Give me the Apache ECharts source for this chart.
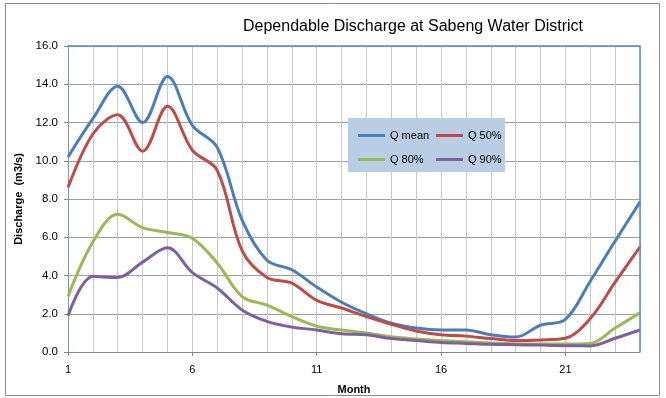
<!DOCTYPE html>
<html>
<head>
<meta charset="utf-8">
<script src="https://cdn.jsdelivr.net/npm/echarts@6/dist/echarts.min.js"></script>
<style>
  html, body { margin: 0; padding: 0; background: #fff; }
  #main { width: 666px; height: 398px; }
</style>
</head>
<body>
<div id="main"></div>
<script>
// months 1..24
var months = [];
for (var i = 1; i <= 24; i++) months.push(String(i));

var qMean = [10.2, 12.2, 13.9, 12.0, 14.4, 11.85, 10.7, 6.9, 4.8, 4.3, 3.4, 2.6,
             2.0, 1.5, 1.25, 1.15, 1.15, 0.9, 0.78, 1.4, 1.7, 3.7, 5.8, 7.85];
var q50 = [8.6, 11.4, 12.4, 10.5, 12.85, 10.55, 9.5, 5.3, 3.9, 3.6, 2.7, 2.3,
           1.85, 1.45, 1.1, 0.9, 0.83, 0.7, 0.6, 0.63, 0.72, 1.75, 3.65, 5.5];
var q80 = [2.9, 5.75, 7.2, 6.5, 6.25, 5.95, 4.65, 2.9, 2.45, 1.85, 1.35, 1.15,
           1.0, 0.8, 0.68, 0.6, 0.53, 0.47, 0.43, 0.42, 0.42, 0.45, 1.25, 2.05];
var q90 = [1.9, 3.95, 3.9, 4.7, 5.45, 4.15, 3.35, 2.2, 1.6, 1.3, 1.15, 0.95,
           0.9, 0.7, 0.6, 0.5, 0.45, 0.4, 0.38, 0.36, 0.33, 0.32, 0.72, 1.15];

var chart = echarts.init(document.getElementById('main'));

function mkSeries(name, data, color) {
  return {
    name: name,
    type: 'line',
    data: data,
    smooth: 0.35,
    symbol: 'none',
    lineStyle: { color: color, width: 3 },
    itemStyle: { color: color }
  };
}

var legendText = { fontFamily: 'Liberation Sans', fontSize: 11, color: '#000' };

var option = {
  animation: false,
  textStyle: { fontFamily: 'Liberation Sans' },
  title: {
    text: 'Dependable Discharge at Sabeng Water District',
    left: 238,
    top: 14,
    textStyle: { fontFamily: 'Liberation Sans', fontSize: 16, fontWeight: 'normal', color: '#000' }
  },
  legend: [
    {
      data: ['Q mean', 'Q 80%'],
      orient: 'vertical',
      left: 353,
      top: 125,
      itemGap: 13,
      itemWidth: 27,
      itemHeight: 3,
      icon: 'rect',
      z: 11,
      textStyle: legendText
    },
    {
      data: ['Q 50%', 'Q 90%'],
      orient: 'vertical',
      left: 431,
      top: 125,
      itemGap: 13,
      itemWidth: 27,
      itemHeight: 3,
      icon: 'rect',
      z: 11,
      textStyle: legendText
    }
  ],
  grid: { left: 68, right: 26, top: 46, bottom: 46, containLabel: false, outerBoundsMode: 'none' },
  xAxis: {
    type: 'category',
    data: months,
    boundaryGap: false,
    name: 'Month',
    nameLocation: 'middle',
    nameGap: 32,
    nameTextStyle: { fontSize: 11, fontWeight: 'bold', color: '#000' },
    axisLine: { lineStyle: { color: '#868686', width: 1 } },
    axisTick: { interval: 4, length: 4, lineStyle: { color: '#868686' } },
    axisLabel: { interval: 4, fontSize: 11, color: '#000', margin: 12 },
    splitLine: { show: true, interval: 0, lineStyle: { color: '#c8c8c8', width: 1 } }
  },
  yAxis: {
    type: 'value',
    min: 0,
    max: 16,
    interval: 2,
    name: 'Discharge  (m3/s)',
    nameLocation: 'middle',
    nameGap: 40,
    nameTextStyle: { fontSize: 11, fontWeight: 'bold', color: '#000' },
    axisLine: { show: true, lineStyle: { color: '#8197b0', width: 1 } },
    axisTick: { show: true, length: 4, lineStyle: { color: '#868686' } },
    axisLabel: {
      fontSize: 11.5, color: '#000', margin: 10,
      formatter: function (v) { return v.toFixed(1); }
    },
    splitLine: { lineStyle: { color: '#a0a0a0', width: 1 } }
  },
  series: [
    mkSeries('Q mean', qMean, '#4a7ebb'),
    mkSeries('Q 50%', q50, '#be4b48'),
    mkSeries('Q 80%', q80, '#98b954'),
    mkSeries('Q 90%', q90, '#7d60a0')
  ]
};

chart.setOption(option);

// outer frame, legend box and the blue top/right border of the plot area
var p0 = chart.convertToPixel({ gridIndex: 0 }, [0, 16]);
var p1 = chart.convertToPixel({ gridIndex: 0 }, [23, 0]);
chart.setOption({
  graphic: [
    {
      type: 'rect',
      shape: { x: 5.5, y: 3.5, width: 654, height: 392 },
      style: { fill: 'none', stroke: '#8c8c8c', lineWidth: 1 },
      z: 0
    },
    {
      type: 'rect',
      shape: { x: 348, y: 118, width: 157, height: 54 },
      style: { fill: '#b9cde5' },
      z: 10
    },
    {
      type: 'polyline',
      shape: { points: [[p0[0], p0[1]], [p1[0], p0[1]], [p1[0], p1[1]]] },
      style: { fill: 'none', stroke: '#5b8ac6', lineWidth: 1.5 },
      z: 5
    }
  ]
});
</script>
</body>
</html>
